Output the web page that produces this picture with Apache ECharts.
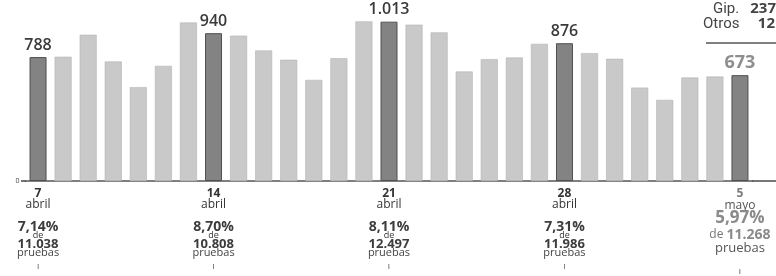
<!DOCTYPE html>
<html>
<head>
<meta charset="utf-8">
<script src="https://cdn.jsdelivr.net/npm/echarts@6/dist/echarts.min.js"></script>
<style>
html,body{margin:0;padding:0;background:#fff;}
#c{width:776px;height:276px;}
</style>
</head>
<body>
<div id="c"></div>
<script>
// Daily positives, 7 April - 5 May
const categories = ['7 abril','8 abril','9 abril','10 abril','11 abril','12 abril','13 abril','14 abril','15 abril','16 abril','17 abril','18 abril','19 abril','20 abril','21 abril','22 abril','23 abril','24 abril','25 abril','26 abril','27 abril','28 abril','29 abril','30 abril','1 mayo','2 mayo','3 mayo','4 mayo','5 mayo'];
const values = [788, 790, 930, 760, 597, 732, 1008, 940, 924, 830, 771, 643, 781, 1015, 1013, 994, 945, 696, 775, 785, 872, 876, 813, 777, 594, 516, 658, 664, 673];
// Weekly highlighted days (indices into categories)
const highlighted = [0, 7, 14, 21, 28];
const weekPct = ['7,14%', '8,70%', '8,11%', '7,31%', '5,97%'];
const weekTests = ['11.038', '10.808', '12.497', '11.986', '11.268'];
// Breakdown box (top right)
const breakdownLabels = ['Gip.', 'Otros'];
const breakdownValues = [237, 12];

const FONT = '"Open Sans", "Noto Sans", sans-serif';
const fmt = v => v >= 1000 ? Math.floor(v / 1000) + '.' + String(v % 1000).padStart(3, '0') : String(v);
const last = categories.length - 1;

const barData = values.map((v, i) => {
  const hi = highlighted.indexOf(i);
  if (hi < 0) {
    return { value: v, itemStyle: { color: '#c9c9c9', borderColor: '#b4b4b4', borderWidth: 0.6 } };
  }
  const isLast = i === last;
  return {
    value: v,
    itemStyle: { color: '#838383', borderColor: '#505050', borderWidth: 1 },
    label: {
      show: true, position: 'top', distance: isLast ? 3 : 4,
      formatter: fmt(v),
      fontFamily: FONT, fontSize: isLast ? 18 : 16, fontWeight: isLast ? 'bold' : 600,
      color: isLast ? '#8e8e8e' : '#3a3a3a'
    }
  };
});

const chart = echarts.init(document.getElementById('c'), null, { renderer: 'canvas' });
chart.setOption({
  animation: false,
  backgroundColor: '#ffffff',
  grid: { left: 25.5, right: 23.5, top: 8, bottom: 95 },
  xAxis: {
    type: 'category',
    data: categories,
    boundaryGap: true,
    axisLine: { show: true, lineStyle: { color: '#555', width: 1.6 } },
    axisTick: { show: false },
    axisLabel: {
      interval: (idx) => highlighted.indexOf(idx) >= 0,
      margin: 7,
      fontFamily: FONT,
      align: 'center',
      verticalAlign: 'top',
      formatter: (val, idx) => {
        const parts = val.split(' ');
        const h = highlighted.indexOf(idx);
        if (h < 0) return '';
        if (idx === last) {
          return '{d2|' + parts[0] + '}\n{m2|' + parts[1] + '}\n{p2|' + weekPct[h] + '}\n{de2|de }{n2|' + weekTests[h] + '}\n{pr2|pruebas}\n{t2|ı}';
        }
        return '{d|' + parts[0] + '}\n{m|' + parts[1] + '}\n{g|}\n{p|' + weekPct[h] + '}\n{de|de}\n{n|' + weekTests[h] + '}\n{pr|pruebas}\n{t|ı}';
      },
      rich: {
        d: { fontFamily: FONT, fontSize: 12, fontWeight: 'bold', color: '#333', lineHeight: 12 },
        m: { fontFamily: FONT, fontSize: 12, color: '#333', lineHeight: 10 },
        g: { fontSize: 2, lineHeight: 12.5 },
        p: { fontFamily: FONT, fontSize: 14, fontWeight: 'bold', color: '#3c3c3c', lineHeight: 8.6 },
        de: { fontFamily: FONT, fontSize: 9, color: '#333', lineHeight: 8 },
        n: { fontFamily: FONT, fontSize: 13, fontWeight: 'bold', color: '#3c3c3c', lineHeight: 10 },
        pr: { fontFamily: FONT, fontSize: 11, color: '#444', lineHeight: 6.8 },
        t: { fontFamily: FONT, fontSize: 9, color: '#555', lineHeight: 20.2 },
        d2: { fontFamily: FONT, fontSize: 12, fontWeight: 'bold', color: '#7a7a7a', lineHeight: 11 },
        m2: { fontFamily: FONT, fontSize: 12, color: '#555', lineHeight: 13 },
        p2: { fontFamily: FONT, fontSize: 17, fontWeight: 'bold', color: '#8a8a8a', lineHeight: 12 },
        de2: { fontFamily: FONT, fontSize: 12, color: '#777', lineHeight: 22 },
        n2: { fontFamily: FONT, fontSize: 14, fontWeight: 'bold', color: '#8a8a8a', lineHeight: 22 },
        pr2: { fontFamily: FONT, fontSize: 13, color: '#555', lineHeight: 4.8 },
        t2: { fontFamily: FONT, fontSize: 9, color: '#555', lineHeight: 41.4 }
      }
    }
  },
  yAxis: {
    type: 'value',
    min: 0, max: 1100, interval: 1100,
    splitLine: { show: false },
    axisLine: { show: false },
    axisTick: { show: false },
    axisLabel: {
      margin: 6,
      fontFamily: FONT, fontSize: 7, color: '#444',
      formatter: v => (v === 0 ? '0' : '')
    }
  },
  series: [{
    type: 'bar',
    data: barData,
    barWidth: 17
  }],
  graphic: [
    { type: 'line', shape: { x1: 752, y1: 181, x2: 776, y2: 181 }, style: { stroke: '#555', lineWidth: 1.6 } },
    { type: 'line', shape: { x1: 21, y1: 181, x2: 26, y2: 181 }, style: { stroke: '#555', lineWidth: 1.6 } },
    { type: 'text', x: 713, y: 9, style: { text: breakdownLabels[0], verticalAlign: 'middle', align: 'left', font: '15px "Roboto", sans-serif', fill: '#444' } },
    { type: 'text', x: 776, y: 9, style: { text: String(breakdownValues[0]), verticalAlign: 'middle', align: 'right', font: 'bold 15px "Open Sans", sans-serif', fill: '#444' } },
    { type: 'text', x: 703, y: 24, style: { text: breakdownLabels[1], verticalAlign: 'middle', align: 'left', font: '15px "Roboto", sans-serif', fill: '#444' } },
    { type: 'text', x: 775, y: 24, style: { text: String(breakdownValues[1]), verticalAlign: 'middle', align: 'right', font: 'bold 15px "Open Sans", sans-serif', fill: '#444' } },
    { type: 'line', shape: { x1: 706, y1: 43, x2: 776, y2: 43 }, style: { stroke: '#555', lineWidth: 1.5 } }
  ]
});
</script>
</body>
</html>
